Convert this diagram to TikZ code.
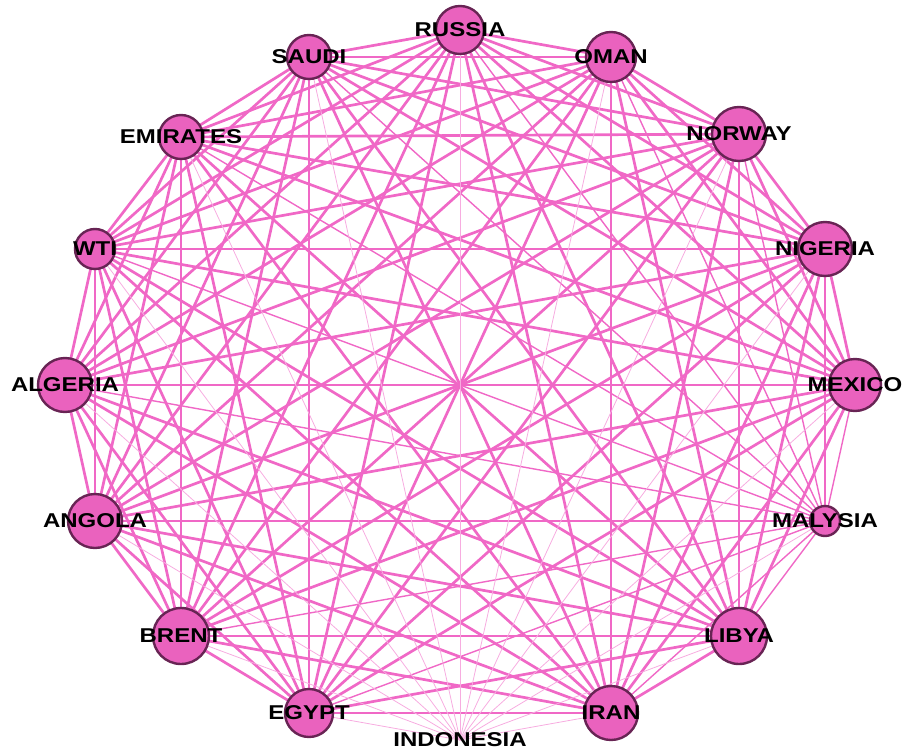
\documentclass[tikz,border=0pt]{standalone}
\usepackage{fontspec}
\setmainfont[FakeStretch=1.2]{Liberation Sans}
\definecolor{nodepink}{RGB}{234,98,190}
\definecolor{linkpink}{RGB}{240,104,198}
\definecolor{rimpurple}{RGB}{104,36,84}
\pgfdeclarelayer{background}
\pgfsetlayers{background,main}

\begin{document}
\begin{tikzpicture}[x=1pt,y=-1pt,
    country/.style={circle,draw=rimpurple,line width=2.4pt,fill=nodepink,inner sep=0pt},
    cname/.style={font=\fontsize{20}{20}\selectfont\bfseries,inner sep=0pt},
    link/.style={linkpink,line width=2.7pt},
    weaklink/.style={linkpink,line width=1.4pt},
    faintlink/.style={linkpink!55,line width=0.8pt}]
\useasboundingbox (0,0) rectangle (907,752);
% oil markets on a ring
\node[country,minimum size=48pt] (rus) at (460,30) {};
\node[country,minimum size=50pt] (oma) at (611,57) {};
\node[country,minimum size=54pt] (nor) at (739,134) {};
\node[country,minimum size=54pt] (nig) at (825,249) {};
\node[country,minimum size=52pt] (mex) at (855,385) {};
\node[country,minimum size=30pt] (mal) at (825,521) {};
\node[country,minimum size=56pt] (lib) at (739,636) {};
\node[country,minimum size=54pt] (ira) at (611,713) {};
\node[inner sep=0pt] (ind) at (460,740) {};
\node[country,minimum size=48pt] (egy) at (309,713) {};
\node[country,minimum size=56pt] (bre) at (181,636) {};
\node[country,minimum size=54pt] (ang) at (95,521) {};
\node[country,minimum size=54pt] (alg) at (65,385) {};
\node[country,minimum size=40pt] (wti) at (95,249) {};
\node[country,minimum size=44pt] (emi) at (181,137) {};
\node[country,minimum size=44pt] (sau) at (309,57) {};
% names
\node[cname] at (rus) {RUSSIA};
\node[cname] at (oma) {OMAN};
\node[cname] at (nor) {NORWAY};
\node[cname] at (nig) {NIGERIA};
\node[cname] at (mex) {MEXICO};
\node[cname] at (mal) {MALYSIA};
\node[cname] at (lib) {LIBYA};
\node[cname] at (ira) {IRAN};
\node[cname] at (ind) {INDONESIA};
\node[cname] at (egy) {EGYPT};
\node[cname] at (bre) {BRENT};
\node[cname] at (ang) {ANGOLA};
\node[cname] at (alg) {ALGERIA};
\node[cname] at (wti) {WTI};
\node[cname] at (emi) {EMIRATES};
\node[cname] at (sau) {SAUDI};
% links
\begin{pgfonlayer}{background}
\foreach \a [count=\i] in {rus,oma,nor,nig,mex,lib,ira,egy,bre,ang,alg,wti,emi,sau}
  \foreach \b [count=\j] in {rus,oma,nor,nig,mex,lib,ira,egy,bre,ang,alg,wti,emi,sau}
    {\ifnum\j>\i \draw[link] (\a.center) -- (\b.center); \fi}
\foreach \b in {rus,oma,nor,nig,mex,lib,ira,egy,bre,ang,alg,wti,emi,sau}
  \draw[weaklink] (mal.center) -- (\b.center);
\foreach \b in {rus,oma,nor,nig,mex,mal,lib,ira,egy,bre,ang,alg,wti,emi,sau}
  \draw[faintlink] (ind.center) -- (\b.center);
\end{pgfonlayer}
\end{tikzpicture}
\end{document}
